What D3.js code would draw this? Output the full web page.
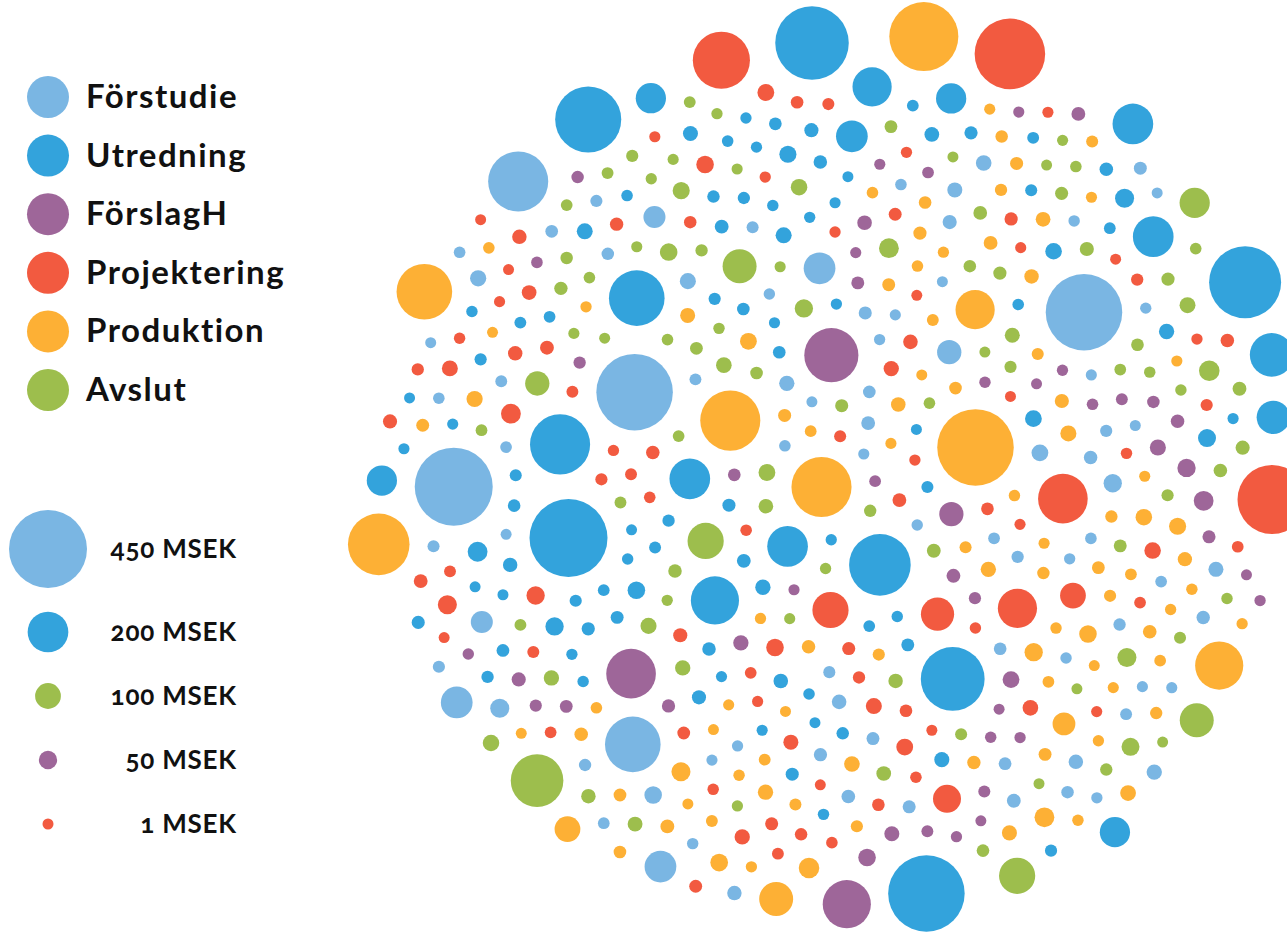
<!DOCTYPE html>
<html><head><meta charset="utf-8">
<script src="https://cdn.jsdelivr.net/npm/d3@7"></script>
<style>
body{margin:0;background:#fff}
svg{display:block}
text{font-family:Lato,'Open Sans',sans-serif;font-weight:700;fill:#111;font-variant-numeric:oldstyle-nums}
</style>
</head><body>
<svg id="c" width="1287" height="943"></svg>
<script>
const categories = ["Förstudie","Utredning","FörslagH","Projektering","Produktion","Avslut"];
const colors = ["#7AB6E3","#33A3DC","#9E6699","#F25A40","#FDB035","#9DBE4D"];

// project budgets in MSEK per phase, listed roughly from the centre of the cloud outwards
const forstudie = [5,2,12,4,20,1,8,30,90,3, 6,15,2,10,40,4,7,25,440,1, 12,5,140,18,3,9,35,2,14,6,
  22,4,50,8,1,16,3,11,440,28, 450,5,10,300,75,2,19,7,32,4, 13,1,24,6,45,9,3,15,5,20,
  2,11,75,7,28,4,12,1,36,8, 3,17,6,55,2,10,24,5,14,1, 9,30,140,140,330];
const utredning = [8,3,340,15,200,1,6,30,12,4, 200,20,2,10,40,5,14,1,250,25, 7,3,12,355,4,18,9,45,2,11,
  330,6,22,1,14,35,300,5,9,3, 450,16,2,28,8,50,4,12,1,20, 6,38,3,10,24,2,15,7,60,4,
  11,1,18,5,30,8,140,2,13,42, 4,9,1,22,6,16,3,34,200,7, 12,2,26,5,48,1,10,3,18,6,
  28,2,55,9,4,15, 190,130,150,130,130,410,440,420,370,220,200,130];
const forslagH = [6,90,2,12,290,4,20,1,9,30, 3,14,5,40,2,10,25,7,1,16, 4,260,11,3,35,8,2,18,6,50,
  1,13,5,22,60,3,9,28,2,15, 7,1,45,4,11,20,3,250];
const projektering = [8,20,3,170,150,5,30,12,1,15, 4,25,7,2,45,10,18,1,190,260, 6,35,3,12,5,22,2,40,9,14,
  100,4,28,1,16,7,50,3,11,20, 2,32,6,13,1,24,5,60,8,3, 17,10,115,2,38,4,12,1,26,7,
  3,45,9,15,2,20,6,30,1,11, 4,55,8,2,18,5,34,1,12,7, 3,24,10,2,40,6,14,1,22, 400,310,390];
const produktion = [330,6,15,2,25,8,440,12,1,30, 4,18,9,3,40,330,7,14,2,22, 190,5,11,35,1,16,4,28,8,3,
  50,10,2,20,6,13,1,32,5,9, 3,24,12,45,2,7,17,1,38,4, 10,80,6,2,26,14,3,55,8,1,
  19,5,30,11,2,42,7,15,3,23, 1,9,36,4,13,2,60,6,18,3, 28,10,1,46,5,14,2,20,8,33,
  3,12,65,4, 250,100,155,300,340,390];
const avslut = [10,25,3,15,40,5,20,170,2,12, 6,32,1,18,50,4,9,24,7,35, 2,13,28,5,11,60,155,1,16,8,
  3,30,10,2,45,6,19,1,14,4, 26,90,7,38,2,12,5,22,1,55, 9,3,17,6,30,2,11,42,4,15,
  1,8,24,3,65,5,13,2,20,7, 34,1,10,4,27,6,16,2,48,9, 3,18,5,12,1,38,7,22, 130,170,155,280];

const sizeLegendValues = [450,200,100,50,1];
const sizeLegendLabels = ["450 MSEK","200 MSEK","100 MSEK","50 MSEK","1 MSEK"];
const sizeLegendCat = [0,1,5,2,3];

const series = [forstudie,utredning,forslagH,projektering,produktion,avslut];

const svg = d3.select("#c");
const rScale = d3.scaleLinear().domain([1,450]).range([5.5,39]);

// ---- category legend
const legY = d3.scalePoint().domain(categories).range([97,390]);
const leg = svg.append("g");
leg.selectAll("circle").data(categories).join("circle")
  .attr("cx",48).attr("cy",d=>legY(d)).attr("r",21)
  .attr("fill",(d,i)=>colors[i]);
leg.selectAll("text").data(categories).join("text")
  .attr("x",86).attr("y",d=>legY(d)+11)
  .style("font-size","33px").style("letter-spacing","1.5px").text(d=>d);

// ---- size legend
const sizeY = d3.scaleOrdinal().domain(sizeLegendValues).range([549,632,696,760,824]);
const sl = svg.append("g");
sl.selectAll("circle").data(sizeLegendValues).join("circle")
  .attr("cx",48).attr("cy",d=>sizeY(d)).attr("r",d=>rScale(d))
  .attr("fill",(d,i)=>colors[sizeLegendCat[i]]);
sl.selectAll("text").data(sizeLegendValues).join("text")
  .attr("x",237).attr("y",d=>sizeY(d)+9).attr("text-anchor","end")
  .style("font-size","26px").style("letter-spacing","0.8px").text((d,i)=>sizeLegendLabels[i]);

// ---- bubble cloud
const cx = 840, cy = 472, pad = 9;
let nodes = [];
series.forEach((arr,ci)=>arr.forEach((v,i)=>nodes.push({cat:ci,v,r:rScale(v),key:(i+0.5)/arr.length})));
nodes.sort((a,b)=>a.key-b.key || a.cat-b.cat);
const golden = Math.PI*(3-Math.sqrt(5));
let cum = 0;
nodes.forEach((n,i)=>{
  const a = Math.PI*(n.r+pad)*(n.r+pad)*1.1;
  cum += a;
  const rad = Math.sqrt((cum-a/2)/Math.PI);
  n.x = cx + rad*Math.cos(i*golden);
  n.y = cy + rad*Math.sin(i*golden);
});
const sim = d3.forceSimulation(nodes)
  .force("x", d3.forceX(cx).strength(0.012))
  .force("y", d3.forceY(cy).strength(0.012))
  .force("collide", d3.forceCollide(d=>d.r+pad).strength(1).iterations(4))
  .stop();
for(let i=0;i<400;i++) sim.tick();

svg.append("g").selectAll("circle").data(nodes).join("circle")
  .attr("cx",d=>d.x).attr("cy",d=>d.y).attr("r",d=>d.r)
  .attr("fill",d=>colors[d.cat]);
</script>
</body></html>
